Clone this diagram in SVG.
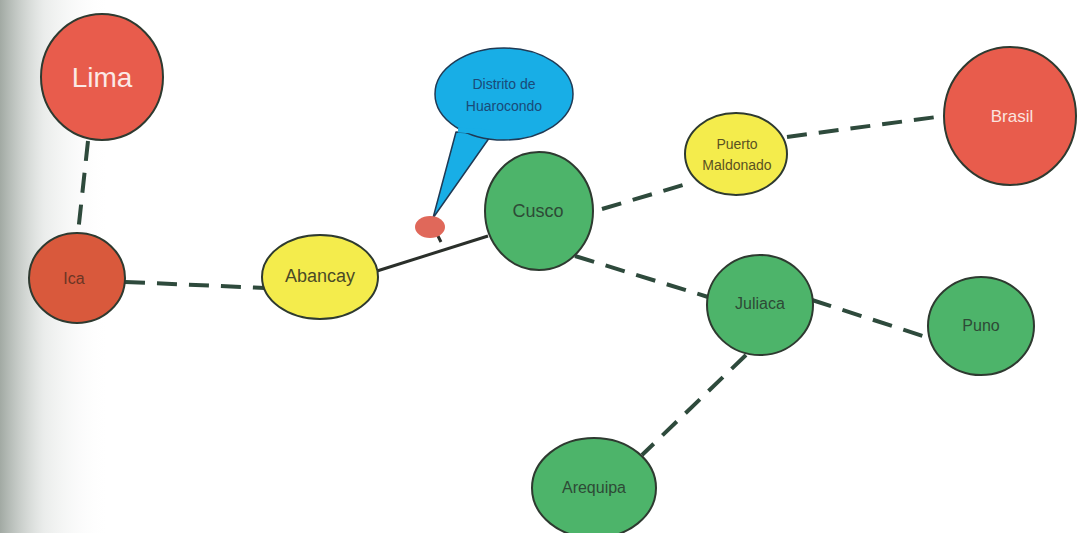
<svg xmlns="http://www.w3.org/2000/svg" width="1077" height="533" viewBox="0 0 1077 533">
<style>
.dash{stroke:#2e4a3c;stroke-width:4;stroke-dasharray:20 12;fill:none}
.solid{stroke:#2a2f2a;stroke-width:3;fill:none}
.node{stroke:#2e3a30;stroke-width:2}
.red{fill:#e85c4c}
.ica{fill:#d9593c}
.yel{fill:#f4ec4c}
.grn{fill:#4db46a}
.t{font-family:"Liberation Sans",Arial,sans-serif;text-anchor:middle;dominant-baseline:central}
</style>
<defs>
<linearGradient id="edge" x1="0" y1="0" x2="1" y2="0">
<stop offset="0" stop-color="#8a948c" stop-opacity="0.8"/>
<stop offset="0.4" stop-color="#c4cac6" stop-opacity="0.35"/>
<stop offset="1" stop-color="#ffffff" stop-opacity="0"/>
</linearGradient>
</defs>
<rect width="1077" height="533" fill="#ffffff"/>
<rect x="0" y="0" width="110" height="533" fill="url(#edge)"/>
<g id="connectors">
<line class="dash" x1="88" y1="141" x2="78" y2="233"/>
<line class="dash" x1="125" y1="282" x2="265" y2="288"/>
<line class="solid" x1="377" y1="271" x2="488" y2="236"/>
<line class="solid" x1="441" y1="242" x2="434" y2="228"/>
<line class="dash" x1="602" y1="209" x2="690" y2="183"/>
<line class="dash" x1="787" y1="137" x2="944" y2="116"/>
<line class="dash" x1="575" y1="256" x2="708" y2="297"/>
<line class="dash" x1="812" y1="300" x2="929" y2="338"/>
<line class="dash" x1="746" y1="355" x2="642" y2="455"/>
</g>
<g id="callout">
<path d="M456,132 L433,218 L492,134 Z" fill="#18aee6" stroke="#1f3a55" stroke-width="1.5" stroke-linejoin="round"/>
<ellipse cx="504" cy="94" rx="69" ry="46" fill="#18aee6" stroke="#1f3a55" stroke-width="1.5"/>
<path d="M458,130 L490,132" stroke="#18aee6" stroke-width="5"/>
<text class="t" x="504" y="84" font-size="14" fill="#1a4a78">Distrito de</text>
<text class="t" x="504" y="106" font-size="14" fill="#1a4a78">Huarocondo</text>
</g>
<g id="marker"><ellipse cx="430" cy="227" rx="15" ry="11" fill="#e0685a"/></g>
<g id="lima"><ellipse class="node red" cx="102" cy="77" rx="61" ry="63"/><text class="t" x="102" y="77" font-size="28" fill="#fbe9e6">Lima</text></g>
<g id="ica"><ellipse class="node ica" cx="77" cy="278" rx="48" ry="45"/><text class="t" x="74" y="278" font-size="16" fill="#6b3524">Ica</text></g>
<g id="abancay"><ellipse class="node yel" cx="320" cy="277" rx="58" ry="42"/><text class="t" x="320" y="276" font-size="18" fill="#4a4a26">Abancay</text></g>
<g id="cusco"><ellipse class="node grn" cx="539" cy="211" rx="54" ry="59"/><text class="t" x="538" y="211" font-size="18" fill="#2d4a36">Cusco</text></g>
<g id="puerto"><ellipse class="node yel" cx="736" cy="154" rx="51" ry="41"/><text class="t" x="737" y="144" font-size="14" fill="#5a5222">Puerto</text><text class="t" x="737" y="165" font-size="14" fill="#5a5222">Maldonado</text></g>
<g id="brasil"><ellipse class="node red" cx="1010" cy="116" rx="66" ry="69"/><text class="t" x="1012" y="116" font-size="17" fill="#fbe3df">Brasil</text></g>
<g id="juliaca"><ellipse class="node grn" cx="760" cy="305" rx="53" ry="50"/><text class="t" x="760" y="303" font-size="16" fill="#2d4a36">Juliaca</text></g>
<g id="puno"><ellipse class="node grn" cx="981" cy="326" rx="53" ry="49"/><text class="t" x="981" y="325" font-size="16" fill="#2d4a36">Puno</text></g>
<g id="arequipa"><ellipse class="node grn" cx="594" cy="488" rx="62" ry="50"/><text class="t" x="594" y="487" font-size="16" fill="#2d4a36">Arequipa</text></g>
</svg>
